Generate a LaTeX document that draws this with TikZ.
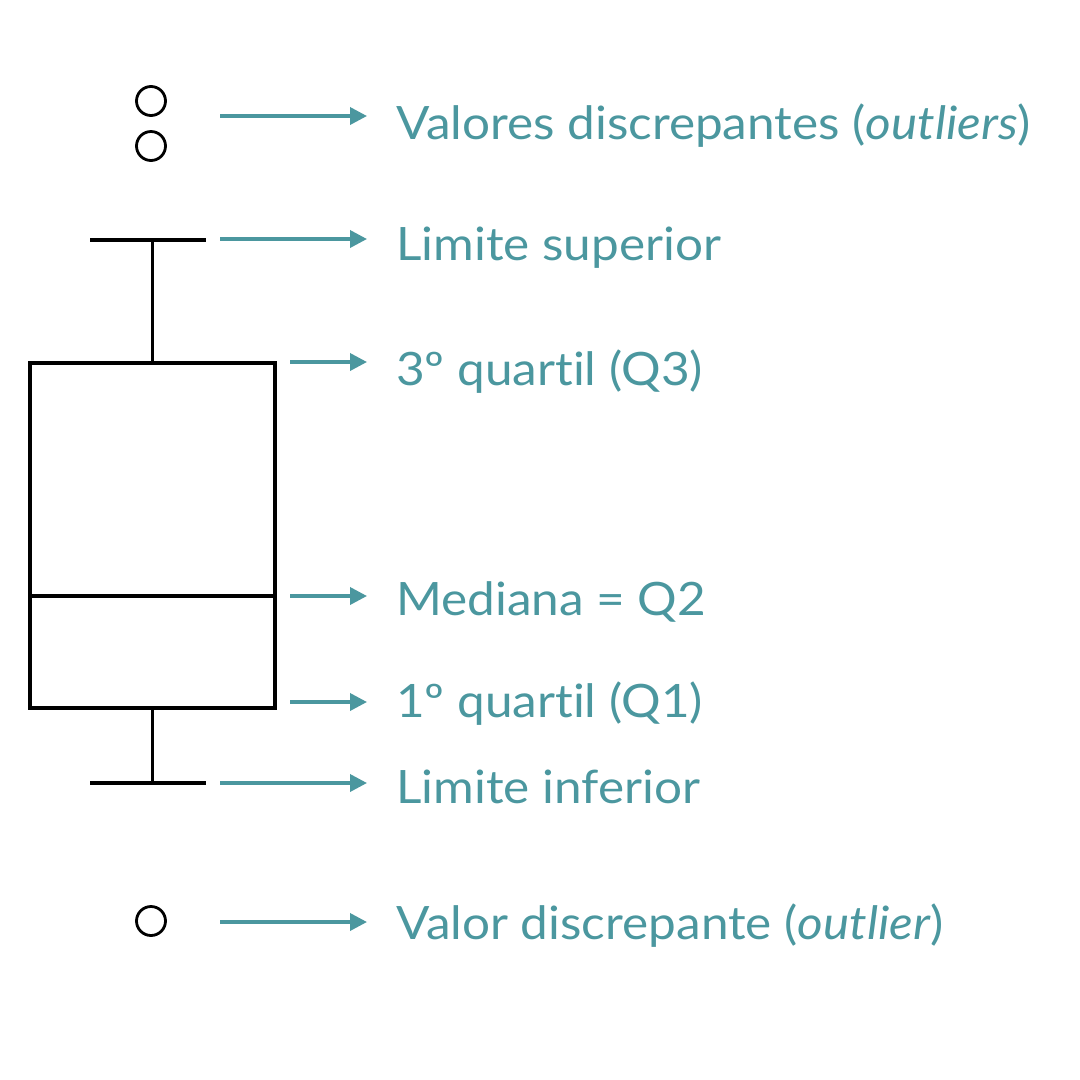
\documentclass[tikz,border=0pt]{standalone}
\usepackage{fontspec}
\setmainfont{Lato}[FakeStretch=1.075, Ligatures={NoCommon}]
\usetikzlibrary{positioning, arrows.meta}
\definecolor{tealtext}{HTML}{4B979F}

\begin{document}
\begin{tikzpicture}[
    x=1pt, y=-1pt,
    whisker/.style={draw=black, line width=3.6pt},
    outlier/.style={circle, draw=black, line width=2.8pt, minimum size=29pt, inner sep=0pt},
    lbl/.style={anchor=base west, inner sep=0pt, text=tealtext, font=\fontsize{46}{50}\selectfont},
    arrow/.style={-{Triangle[length=17pt, width=17pt]}, draw=tealtext, line width=3.6pt}
]
    \useasboundingbox (0,0) rectangle (1080,1080);

    % Box and whiskers
    \node[whisker, rectangle, minimum width=245pt, minimum height=345pt, inner sep=0pt] (box) at (152.5,535.5) {};
    \coordinate (medL) at (box.west |- 0,596);
    \coordinate (medR) at (box.east |- 0,596);
    \draw[whisker] (medL) -- (medR);

    \coordinate (capT) at (box.north |- 0,240);
    \coordinate (capTL) at (90,240);
    \coordinate (capTR) at (206,240);
    \draw[whisker] (box.north) -- (capT);
    \draw[whisker] (capTL) -- (capTR);

    \coordinate (capB) at (box.south |- 0,783);
    \coordinate (capBL) at (90,783);
    \coordinate (capBR) at (206,783);
    \draw[whisker] (box.south) -- (capB);
    \draw[whisker] (capBL) -- (capBR);

    % Outliers
    \node[outlier] (out1) at (151,101) {};
    \node[outlier] (out2) at (151,146) {};
    \node[outlier] (out3) at (151,921) {};

    % Labels
    \node[lbl] (tOut) at (396,139) {Valores discrepantes (\textit{outliers})};
    \node[lbl] (tSup) at (396,260) {Limite superior};
    \node[lbl] (tQ3) at (396,385) {3º quartil (Q3)};
    \node[lbl] (tMed) at (396,615) {Mediana = Q2};
    \node[lbl] (tQ1) at (396,717) {1º quartil (Q1)};
    \node[lbl] (tInf) at (396,803) {Limite inferior};
    \node[lbl] (tOne) at (396,939) {Valor discrepante (\textit{outlier})};

    % Arrows
    \coordinate (aOut) at (220,116);
    \coordinate (aSup) at (220,239);
    \coordinate (aQ3) at (290,362);
    \coordinate (aMed) at (290,596);
    \coordinate (aQ1) at (290,702);
    \coordinate (aInf) at (220,783);
    \coordinate (aOne) at (220,922);
    \draw[arrow] (aOut) -- ([xshift=-29pt]aOut -| tOut.west);
    \draw[arrow] (aSup) -- ([xshift=-29pt]aSup -| tSup.west);
    \draw[arrow] (aQ3) -- ([xshift=-29pt]aQ3 -| tQ3.west);
    \draw[arrow] (aMed) -- ([xshift=-29pt]aMed -| tMed.west);
    \draw[arrow] (aQ1) -- ([xshift=-29pt]aQ1 -| tQ1.west);
    \draw[arrow] (aInf) -- ([xshift=-29pt]aInf -| tInf.west);
    \draw[arrow] (aOne) -- ([xshift=-29pt]aOne -| tOne.west);

\end{tikzpicture}
\end{document}
